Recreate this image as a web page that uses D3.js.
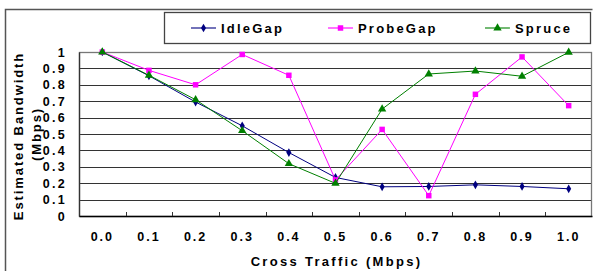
<!DOCTYPE html>
<html><head><meta charset="utf-8">
<script src="https://cdn.jsdelivr.net/npm/d3@7"></script>
<style>
html,body{margin:0;padding:0;background:#fff;}
text{font-family:"Liberation Sans",Arial,sans-serif;font-weight:bold;fill:#000;}
</style></head>
<body>
<svg id="c" width="593" height="271"></svg>
<script>
const categories = ["0.0","0.1","0.2","0.3","0.4","0.5","0.6","0.7","0.8","0.9","1.0"];
const idleGap  = [1.0, 0.855, 0.695, 0.55, 0.387, 0.235, 0.178, 0.18, 0.19, 0.18, 0.166];
const probeGap = [1.0, 0.888, 0.80, 0.985, 0.858, 0.22, 0.528, 0.124, 0.742, 0.97, 0.673];
const spruce   = [1.0, 0.858, 0.709, 0.52, 0.319, 0.199, 0.652, 0.866, 0.884, 0.852, 0.998];
const yTicks = [0,0.1,0.2,0.3,0.4,0.5,0.6,0.7,0.8,0.9,1];
const seriesNames = ["IdleGap","ProbeGap","Spruce"];

const svg = d3.select("#c");
const L = 79, R = 592, T = 52, B = 216;

const x = d3.scaleBand().domain(categories).range([L, R]).padding(0);
const y = d3.scaleLinear().domain([0, 1]).range([B, T]);

// outer frame
svg.append("path").attr("d", `M5.5,271 V9.5 H592.5`).attr("fill","none").attr("stroke","#555").attr("stroke-width",1.5);

// gridlines
svg.append("g").selectAll("line").data(yTicks.filter(d => d > 0 && d < 1)).join("line")
  .attr("x1", L).attr("x2", R).attr("y1", d => Math.round(y(d)) + 0.5).attr("y2", d => Math.round(y(d)) + 0.5)
  .attr("stroke", "#333").attr("stroke-width", 1.2);
// plot border
svg.append("rect").attr("x", L + 0.5).attr("y", T + 0.5).attr("width", R - L - 1).attr("height", B - T)
  .attr("fill", "none").attr("stroke", "#777").attr("stroke-width", 1.3);

// y axis
const yAxis = d3.axisLeft(y).tickValues(yTicks).tickSize(0).tickPadding(12)
  .tickFormat(d => d === 0 ? "0" : d === 1 ? "1" : d3.format(".1f")(d));
const gy = svg.append("g").attr("transform", `translate(${L},0)`).call(yAxis);
gy.select(".domain").attr("stroke", "#333").attr("stroke-width", 1.3);
gy.selectAll("text").style("font-size", "12.5px").attr("letter-spacing", "2.3px");

// x axis
const gx = svg.append("g").attr("transform", `translate(0,${B})`)
  .call(d3.axisBottom(x).tickSize(0).tickPadding(14));
gx.select(".domain").attr("stroke", "#000").attr("stroke-width", 1.5);
gx.selectAll("text").style("font-size", "12.5px").attr("letter-spacing", "2px").attr("dy", "0.9em");
// inward tick marks at category boundaries
svg.append("g").selectAll("line").data(categories.slice(1)).join("line")
  .attr("x1", d => Math.round(x(d)) + 0.5).attr("x2", d => Math.round(x(d)) + 0.5)
  .attr("y1", B).attr("y2", B - 4).attr("stroke", "#333").attr("stroke-width", 1);

// axis titles
svg.append("text").attr("x", (L + R) / 2 + 1).attr("y", 266).attr("text-anchor", "middle")
  .style("font-size", "13px").attr("letter-spacing", "2.3px").text("Cross Traffic (Mbps)");
const ty = svg.append("g").attr("transform", `translate(23,${(T + B) / 2 + 2}) rotate(-90)`);
ty.append("text").attr("x", 0).attr("y", 0).attr("text-anchor", "middle")
  .style("font-size", "13px").attr("letter-spacing", "1.9px").text("Estimated Bandwidth");
ty.append("text").attr("x", 2).attr("y", 18).attr("text-anchor", "middle")
  .style("font-size", "13px").attr("letter-spacing", "1.9px").text("(Mbps)");

const cx = d => x(d) + x.bandwidth() / 2;
const series = [
  {name: seriesNames[0], values: idleGap, color: "#000080", sym: d3.symbolDiamond, size: 22},
  {name: seriesNames[1], values: probeGap, color: "#FF00FF", sym: d3.symbolSquare, size: 30},
  {name: seriesNames[2], values: spruce, color: "#008000", sym: d3.symbolTriangle, size: 30}
];
const line = d3.line().x((d, i) => cx(categories[i])).y(d => y(d));
series.forEach(s => {
  svg.append("path").attr("d", line(s.values)).attr("fill", "none").attr("stroke", s.color).attr("stroke-width", 1);
  svg.append("g").selectAll("path").data(s.values).join("path")
    .attr("transform", (d, i) => `translate(${cx(categories[i])},${y(d)})`)
    .attr("d", d3.symbol().type(s.sym).size(s.size)).attr("fill", s.color);
});

// legend
svg.append("rect").attr("x", 164.5).attr("y", 12.5).attr("width", 426).attr("height", 31)
  .attr("fill", "#fff").attr("stroke", "#444").attr("stroke-width", 1.3);
const legX = [191, 328, 485];
series.forEach((s, i) => {
  const g = svg.append("g").attr("transform", `translate(${legX[i]},28)`);
  g.append("line").attr("x1", 0).attr("x2", 25).attr("stroke", s.color).attr("stroke-width", 1.1);
  g.append("path").attr("transform", "translate(12.5,0)").attr("d", d3.symbol().type(s.sym).size(s.size)).attr("fill", s.color);
  g.append("text").attr("x", 30).attr("y", 0).attr("dy", "0.36em").style("font-size", "13px")
    .attr("letter-spacing", "2.2px").text(s.name);
});
</script>
</body></html>
